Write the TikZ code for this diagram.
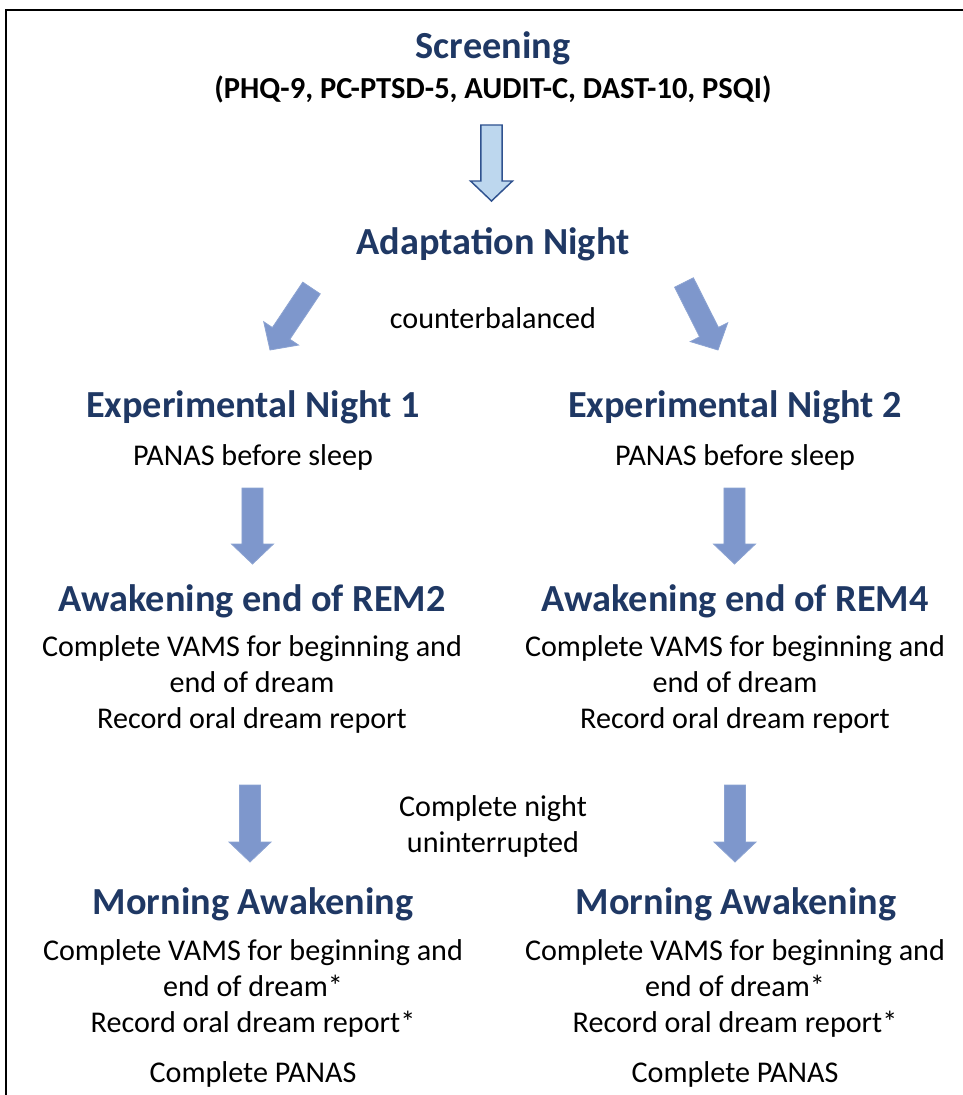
\documentclass[tikz,border=0pt]{standalone}
\usepackage{fontspec}
\setmainfont{Carlito}
\usetikzlibrary{calc}

\definecolor{headblue}{RGB}{31,56,100}
\definecolor{arrowfill}{RGB}{126,151,204}
\definecolor{arrowline}{RGB}{140,163,210}
\definecolor{lightfill}{RGB}{189,215,238}
\definecolor{darkline}{RGB}{47,82,143}

\tikzset{
  heading/.style={font=\fontsize{28.7}{32}\selectfont\bfseries, text=headblue, inner sep=0pt},
  subhead/.style={font=\fontsize{22.9}{26}\selectfont\bfseries, inner sep=0pt},
  bodytext/.style={font=\fontsize{22.6}{27}\selectfont, align=center, inner sep=0pt},
  solidarrow/.style={fill=arrowfill, draw=arrowline, line width=0.6pt},
  openarrow/.style={fill=lightfill, draw=darkline, line width=1.1pt},
}

% block arrow from #2 to #3
\newcommand{\blockarrow}[3][solidarrow]{%
  \coordinate (hb) at ($(#3)!15pt!(#2)$);
  \path[#1] ($(#2)!7.9pt!90:(#3)$) -- ($(hb)!7.9pt!90:(#3)$) -- ($(hb)!15.75pt!90:(#3)$) -- (#3)
    -- ($(hb)!15.75pt!-90:(#3)$) -- ($(hb)!7.9pt!-90:(#3)$) -- ($(#2)!7.9pt!-90:(#3)$) -- cycle;
}

\begin{document}
\begin{tikzpicture}[x=0.75pt,y=0.75pt,yscale=-1,xscale=1]
\useasboundingbox (0,0) rectangle (963,1095);

%Frame
\draw [line width=1.1pt] (963,10) -- (6,10) -- (6,1095) ;

% Text Node
\node [heading] (scr) at (493,48) {Screening};
% Text Node
\node [subhead] (scrlist) at (493,89) {(PHQ-9, PC-PTSD-5, AUDIT-C, DAST-10, PSQI)};
% Text Node
\node [heading] (adapt) at (493,244) {Adaptation Night};
% Text Node
\node [bodytext] (cb) at (493,318) {counterbalanced};

% Text Node
\node [heading] (exp1) at (253,407) {Experimental Night 1};
\node [bodytext] (pan1) at (253,457) {PANAS before sleep};
% Text Node
\node [heading] (exp2) at (735,407) {Experimental Night 2};
\node [bodytext] (pan2) at (735,457) {PANAS before sleep};

% Text Node
\node [heading] (awk1) at (252,601) {Awakening end of REM2};
\node [bodytext] (vams1) at (252,684) {Complete VAMS for beginning and\\end of dream\\Record oral dream report};
% Text Node
\node [heading] (awk2) at (735,601) {Awakening end of REM4};
\node [bodytext] (vams2) at (735,684) {Complete VAMS for beginning and\\end of dream\\Record oral dream report};

% Text Node
\node [bodytext] (cn) at (493,826) {Complete night\\uninterrupted};

% Text Node
\node [heading] (morn1) at (253,904) {Morning Awakening};
\node [bodytext] (mvams1) at (253,988) {Complete VAMS for beginning and\\end of dream*\\Record oral dream report*};
\node [bodytext] (cp1) at (253,1074) {Complete PANAS};
% Text Node
\node [heading] (morn2) at (736,904) {Morning Awakening};
\node [bodytext] (mvams2) at (735,988) {Complete VAMS for beginning and\\end of dream*\\Record oral dream report*};
\node [bodytext] (cp2) at (735,1074) {Complete PANAS};

%Arrows
\coordinate (a1s) at (491.5,125);  \coordinate (a1e) at (491.5,201);
\coordinate (a2s) at (311.5,288);  \coordinate (a2e) at (270,350);
\coordinate (a3s) at (684,282.5);  \coordinate (a3e) at (718,350);
\coordinate (a4s) at (252.5,488);  \coordinate (a4e) at (252.5,564);
\coordinate (a5s) at (734.5,488);  \coordinate (a5e) at (734.5,564);
\coordinate (a6s) at (250,785);    \coordinate (a6e) at (250,862);
\coordinate (a7s) at (735,785);    \coordinate (a7e) at (735,862);

\blockarrow[openarrow]{a1s}{a1e}
\blockarrow{a2s}{a2e}
\blockarrow{a3s}{a3e}
\blockarrow{a4s}{a4e}
\blockarrow{a5s}{a5e}
\blockarrow{a6s}{a6e}
\blockarrow{a7s}{a7e}

\end{tikzpicture}
\end{document}
